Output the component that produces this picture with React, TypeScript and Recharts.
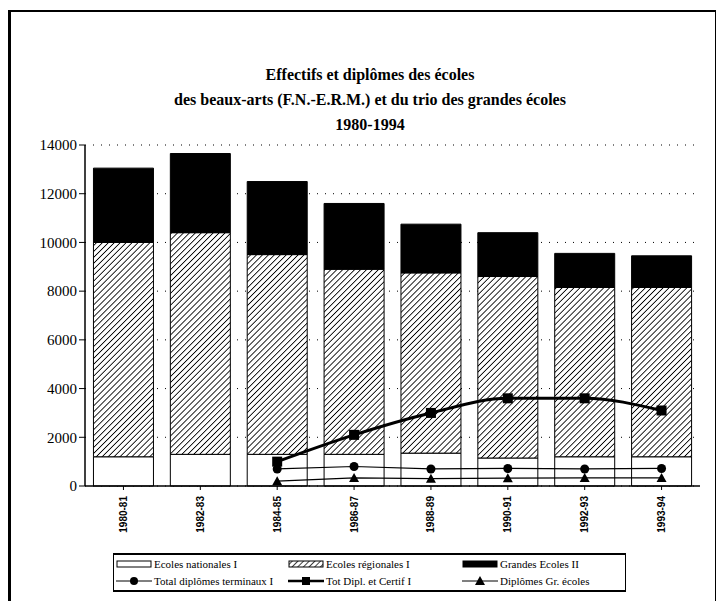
import React from 'react';
import { ComposedChart, Bar, Line, XAxis, YAxis, CartesianGrid } from 'recharts';

const periods = ['1980-81', '1982-83', '1984-85', '1986-87', '1988-89', '1990-91', '1992-93', '1993-94'];
const ecolesNationales = [1200, 1300, 1300, 1300, 1350, 1150, 1200, 1200];
const ecolesRegionales = [8800, 9100, 8200, 7600, 7400, 7450, 6950, 6950];
const grandesEcoles = [3050, 3250, 3000, 2700, 2000, 1800, 1400, 1300];
const totalDiplomesTerminaux = [null, null, 700, 800, 700, 720, 700, 720];
const totDiplEtCertif = [null, null, 1000, 2100, 3000, 3600, 3600, 3100];
const diplomesGrEcoles = [null, null, 200, 330, 300, 320, 330, 330];
const yTicks = [0, 2000, 4000, 6000, 8000, 10000, 12000, 14000];
const titleLines = [
  'Effectifs et diplômes des écoles',
  'des beaux-arts (F.N.-E.R.M.) et du trio des grandes écoles',
  '1980-1994',
];

const data = periods.map((p, i) => ({
  period: p,
  nat: ecolesNationales[i],
  reg: ecolesRegionales[i],
  gr: grandesEcoles[i],
  term: totalDiplomesTerminaux[i],
  cert: totDiplEtCertif[i],
  grDipl: diplomesGrEcoles[i],
}));

const CircleDot = (props: any) => {
  const { cx, cy, value } = props;
  if (value == null || cx == null) return null;
  return <circle cx={cx} cy={cy} r={4.5} fill="#000" />;
};

const SquareDot = (props: any) => {
  const { cx, cy, value } = props;
  if (value == null || cx == null) return null;
  return <rect x={cx - 5} y={cy - 5} width={10} height={10} fill="#000" />;
};

const TriangleDot = (props: any) => {
  const { cx, cy, value } = props;
  if (value == null || cx == null) return null;
  return <polygon points={`${cx},${cy - 5} ${cx + 5},${cy + 4} ${cx - 5},${cy + 4}`} fill="#000" />;
};

const XTick = (props: any) => {
  const { x, y, payload } = props;
  return (
    <text
      transform={`translate(${x},${y + 4}) rotate(-90)`}
      textAnchor="end"
      dominantBaseline="central"
      fontFamily="Liberation Sans, Arial, sans-serif"
      fontWeight="bold"
      fontSize={10}
      fill="#000"
    >
      {payload.value}
    </text>
  );
};

const legendItems = [
  { name: 'Ecoles nationales I', kind: 'box', fill: '#fff' },
  { name: 'Ecoles régionales I', kind: 'box', fill: 'url(#hatchLegend)' },
  { name: 'Grandes Ecoles II', kind: 'box', fill: '#000' },
  { name: 'Total diplômes terminaux I', kind: 'circle' },
  { name: 'Tot Dipl. et Certif I', kind: 'square' },
  { name: 'Diplômes Gr. écoles', kind: 'triangle' },
];

function Swatch({ kind, fill }: { kind: string; fill?: string }) {
  return (
    <svg width={36} height={10} style={{ marginRight: 2, flexShrink: 0 }}>
      <defs>
        <pattern id="hatchLegend" width={4} height={4} patternUnits="userSpaceOnUse" patternTransform="rotate(45)">
          <line x1={0} y1={0} x2={0} y2={4} stroke="#000" strokeWidth={1.5} />
        </pattern>
      </defs>
      {kind === 'box' && <rect x={1} y={2} width={34} height={6} fill={fill} stroke="#000" strokeWidth={1} />}
      {kind !== 'box' && <line x1={0} y1={5} x2={36} y2={5} stroke="#000" strokeWidth={kind === 'square' ? 2.5 : 1} />}
      {kind === 'circle' && <circle cx={18} cy={5} r={4} fill="#000" />}
      {kind === 'square' && <rect x={14} y={1} width={8} height={8} fill="#000" />}
      {kind === 'triangle' && <polygon points="18,0 23,9 13,9" fill="#000" />}
    </svg>
  );
}

export default function App() {
  return (
    <div style={{ position: 'absolute', left: 0, top: 0, width: 722, height: 601, background: '#fff', overflow: 'hidden' }}>
      <div
        style={{
          position: 'absolute', left: 8, top: 10, width: 704, height: 600,
          borderLeft: '3px solid #000', borderTop: '2px solid #000', borderRight: '1px solid #000',
        }}
      />
      <div
        style={{
          position: 'absolute', left: 0, top: 62, width: 740, textAlign: 'center',
          fontFamily: 'Liberation Serif, Times New Roman, serif', fontWeight: 'bold', fontSize: 16, lineHeight: '25px',
        }}
      >
        {titleLines.map((t) => (
          <div key={t}>{t}</div>
        ))}
      </div>
      <ComposedChart
        width={722}
        height={601}
        data={data}
        margin={{ top: 145, right: 22, left: 20, bottom: 55 }}
        barCategoryGap="11%"
        style={{ position: 'absolute', left: 0, top: 0 }}
      >
        <defs>
          <pattern id="hatch" width={4.2} height={4.2} patternUnits="userSpaceOnUse" patternTransform="rotate(45)">
            <rect width={4.2} height={4.2} fill="#fff" />
            <line x1={0} y1={0} x2={0} y2={4.2} stroke="#000" strokeWidth={1.7} />
          </pattern>
        </defs>
        <CartesianGrid vertical={false} stroke="#000" strokeDasharray="1 7" />
        <XAxis
          dataKey="period"
          height={60}
          tick={<XTick />}
          axisLine={{ stroke: '#000', strokeWidth: 1.5 }}
          tickLine={{ stroke: '#000' }}
          tickSize={4}
          interval={0}
        />
        <YAxis
          width={65}
          domain={[0, 14000]}
          ticks={yTicks}
          interval={0}
          axisLine={{ stroke: '#000', strokeWidth: 1.5 }}
          tickLine={{ stroke: '#000' }}
          tickSize={6}
          tick={{ fill: '#000', fontSize: 15, fontFamily: 'Liberation Serif, Times New Roman, serif' }}
        />
        <Bar dataKey="nat" stackId="a" fill="#fff" stroke="#000" strokeWidth={1} isAnimationActive={false} />
        <Bar dataKey="reg" stackId="a" fill="url(#hatch)" stroke="#000" strokeWidth={1} isAnimationActive={false} />
        <Bar dataKey="gr" stackId="a" fill="#000" stroke="#000" strokeWidth={1} isAnimationActive={false} />
        <Line type="linear" dataKey="term" stroke="#000" strokeWidth={1.2} dot={<CircleDot />} activeDot={false} isAnimationActive={false} />
        <Line type="linear" dataKey="grDipl" stroke="#000" strokeWidth={1.2} dot={<TriangleDot />} activeDot={false} isAnimationActive={false} />
        <Line type="monotone" dataKey="cert" stroke="#000" strokeWidth={3} dot={<SquareDot />} activeDot={false} isAnimationActive={false} />
      </ComposedChart>
      <div
        style={{
          position: 'absolute', left: 113, top: 553, width: 513, height: 39,
          borderTop: '2px solid #000', borderBottom: '2px solid #000', borderLeft: '1px solid #000', borderRight: '1px solid #000',
          display: 'grid', gridTemplateColumns: '172px 174px 1fr', gridTemplateRows: '1fr 1fr',
          alignItems: 'center', padding: '0 0 0 2px', boxSizing: 'border-box',
          fontFamily: 'Liberation Serif, Times New Roman, serif', fontSize: 11,
        }}
      >
        {legendItems.map((it) => (
          <div key={it.name} style={{ display: 'flex', alignItems: 'center', whiteSpace: 'nowrap' }}>
            <Swatch kind={it.kind} fill={it.fill} />
            <span>{it.name}</span>
          </div>
        ))}
      </div>
    </div>
  );
}
